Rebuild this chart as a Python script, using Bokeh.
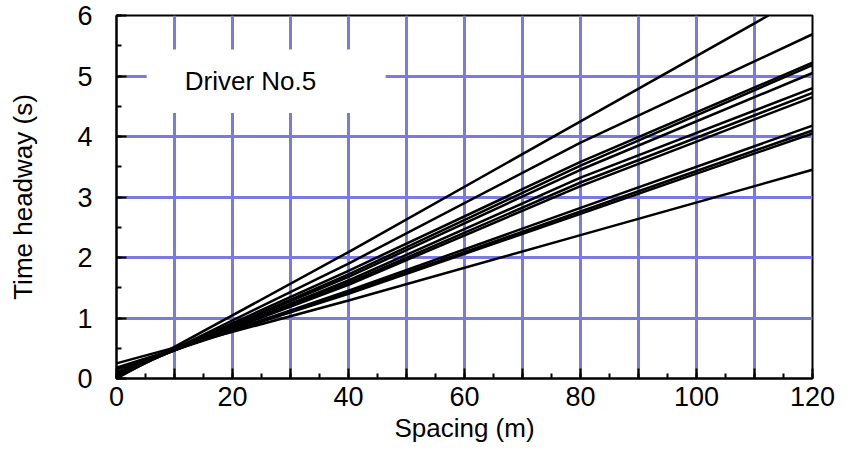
from bokeh.plotting import figure
from bokeh.embed import file_html
from bokeh.resources import INLINE
from bokeh.models import SingleIntervalTicker, Range1d
from bokeh.core.properties import value

# Spacing sample points (m) and time headway (s) for each fitted line
xs_list = [
    [0, 40, 80, 112.4],
    [0, 40, 80, 120],
    [0, 40, 80, 120],
    [0, 40, 80, 120],
    [0, 40, 80, 120],
    [0, 40, 80, 120],
    [0, 40, 80, 120],
    [0, 40, 80, 120],
    [0, 40, 80, 120],
    [0, 40, 80, 120],
    [0, 40, 80, 120],
    [0, 40, 80, 120],
]
ys_list = [
    [0.00, 2.09, 4.25, 6.00],
    [0.02, 1.90, 3.90, 5.69],
    [0.05, 1.78, 3.58, 5.22],
    [0.05, 1.72, 3.52, 5.18],
    [0.08, 1.68, 3.45, 5.05],
    [0.08, 1.62, 3.32, 4.80],
    [0.10, 1.58, 3.24, 4.72],
    [0.10, 1.55, 3.18, 4.65],
    [0.15, 1.45, 2.82, 4.18],
    [0.15, 1.42, 2.76, 4.10],
    [0.18, 1.40, 2.72, 4.05],
    [0.25, 1.29, 2.37, 3.45],
]
x_tick_labels = {0: "0", 10: "", 20: "20", 30: "", 40: "40", 50: "", 60: "60",
                 70: "", 80: "80", 90: "", 100: "100", 110: "", 120: "120"}
label_text = "Driver No.5"

FONT = "Liberation Sans"
p = figure(width=847, height=450, output_backend="svg", toolbar_location=None,
           x_range=Range1d(0, 120), y_range=Range1d(0, 6))
p.min_border_left = 116
p.min_border_right = 35
p.min_border_top = 15
p.min_border_bottom = 72
p.background_fill_color = "white"
p.border_fill_color = "white"
p.outline_line_color = "black"
p.outline_line_width = 2

# grid
for g in (p.xgrid, p.ygrid):
    g.grid_line_color = "#7a7ae2"
    g.grid_line_width = 3
p.xgrid.ticker = SingleIntervalTicker(interval=10)
p.ygrid.ticker = SingleIntervalTicker(interval=1)

# axes
p.xaxis.ticker = SingleIntervalTicker(interval=10, num_minor_ticks=2)
p.yaxis.ticker = SingleIntervalTicker(interval=1, num_minor_ticks=2)
p.xaxis.major_label_overrides = x_tick_labels
for ax in (p.xaxis, p.yaxis):
    ax.axis_line_color = "black"
    ax.axis_line_width = 2
    ax.major_tick_in = 10
    ax.major_tick_out = 0
    ax.minor_tick_in = 5
    ax.minor_tick_out = 0
    ax.major_tick_line_color = "black"
    ax.major_tick_line_width = 2
    ax.minor_tick_line_color = "black"
    ax.minor_tick_line_width = 2
    ax.major_label_text_font = FONT
    ax.major_label_text_font_size = "27px"
    ax.major_label_text_color = "black"
    ax.axis_label_text_font = FONT
    ax.axis_label_text_font_size = "26px"
    ax.axis_label_text_font_style = "normal"
    ax.axis_label_text_color = "black"
p.xaxis.axis_label = "Spacing (m)"
p.yaxis.axis_label = "Time headway (s)"
p.xaxis.major_label_standoff = 8
p.yaxis.major_label_standoff = 24
p.xaxis.axis_label_standoff = 4
p.yaxis.axis_label_standoff = 36

# label box background
p.quad(left=[5.2], right=[46.4], bottom=[4.39], top=[5.44],
       fill_color="white", line_color=None)
p.text(x=[23.1], y=[4.91], text=[label_text], text_font=value(FONT),
       text_font_size="26px", text_align="center", text_baseline="middle",
       text_color="black")

p.multi_line(xs=xs_list, ys=ys_list, line_color="black", line_width=2.5)

open("out.html", "w").write(file_html(p, INLINE))
